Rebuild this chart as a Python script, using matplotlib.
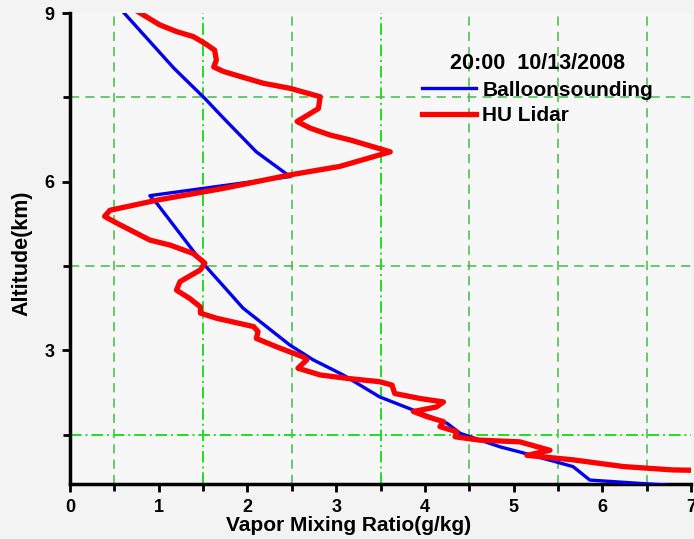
import matplotlib
matplotlib.use("Agg")
import matplotlib.pyplot as plt
from matplotlib.ticker import MultipleLocator

plt.rcParams['font.family'] = ['Liberation Sans', 'DejaVu Sans']
plt.rcParams['font.weight'] = 'bold'

# Balloon sounding profile (g/kg vs km)
balloon_x = [0.61, 1.17, 1.52, 1.73, 2.10, 2.48, 0.90, 0.98, 1.47, 1.95, 2.48,
             2.74, 3.08, 3.49, 4.25, 4.40, 4.85, 5.07, 5.67, 5.86, 6.43, 6.73]
balloon_y = [9.00, 8.02, 7.48, 7.13, 6.53, 6.09, 5.75, 5.61, 4.60, 3.75, 3.09,
             2.83, 2.56, 2.17, 1.70, 1.52, 1.28, 1.19, 0.93, 0.69, 0.63, 0.60]

# HU Lidar profile
lidar_x = [0.77, 1.01, 1.20, 1.39, 1.52, 1.63, 1.65, 1.62, 1.73, 1.92, 2.18, 2.48,
           2.82, 2.80, 2.56, 2.71, 2.93, 3.16, 3.61, 3.04, 2.48, 1.73, 0.98, 0.45,
           0.39, 0.53, 0.90, 1.13, 1.39, 1.52, 1.47, 1.24, 1.20, 1.35, 1.47, 1.47,
           1.65, 2.07, 2.12, 2.10, 2.33, 2.63, 2.67, 2.57, 2.82, 3.12, 3.49, 3.63,
           3.66, 3.95, 4.21, 4.13, 3.87, 4.02, 4.21, 4.17, 4.36, 4.34, 4.62, 5.07,
           5.41, 5.15, 5.67, 6.24, 6.80, 7.20]
lidar_y = [9.02, 8.79, 8.67, 8.58, 8.46, 8.34, 8.16, 8.04, 7.96, 7.87, 7.75, 7.66,
           7.51, 7.30, 7.07, 6.95, 6.83, 6.74, 6.53, 6.27, 6.12, 5.88, 5.67, 5.49,
           5.38, 5.26, 4.96, 4.87, 4.72, 4.55, 4.43, 4.22, 4.07, 3.92, 3.77, 3.66,
           3.57, 3.42, 3.33, 3.21, 3.06, 2.88, 2.83, 2.68, 2.56, 2.50, 2.44, 2.38,
           2.23, 2.14, 2.08, 1.99, 1.91, 1.82, 1.73, 1.64, 1.55, 1.46, 1.40, 1.37,
           1.22, 1.13, 1.05, 0.93, 0.87, 0.86]

x_ticks = [0, 1, 2, 3, 4, 5, 6, 7]
y_ticks = [3, 6, 9]

fig = plt.figure(figsize=(6.94, 5.39), dpi=100, facecolor='#f3f3f3')
ax = fig.add_axes([70/694, 1-484/539, 621/694, 471/539])
ax.set_facecolor('#f7f7f7')

ax.plot(balloon_x, balloon_y, color='#0000ee', lw=2.4, label='Balloonsounding', zorder=3)
ax.plot(lidar_x, lidar_y, color='#ff0000', lw=3.8, label='HU Lidar', zorder=4)

ax.set_xlim(0, 7)
ax.set_ylim(0.62, 9)
ax.set_xticks(x_ticks)
ax.set_yticks(y_ticks)
ax.xaxis.set_minor_locator(MultipleLocator(0.5))
ax.yaxis.set_minor_locator(MultipleLocator(1.5))
ax.tick_params(which='both', direction='out', width=2, length=5)
ax.tick_params(which='major', length=6, labelsize=13, pad=5)
for lab in ax.get_xticklabels() + ax.get_yticklabels():
    lab.set_fontweight('bold')

for s in ['top', 'right']:
    ax.spines[s].set_visible(False)
for s in ['left', 'bottom']:
    ax.spines[s].set_linewidth(2.5)

for xv in [0.5, 2.5, 4.5, 5.5, 6.5]:
    ax.axvline(xv, color='#44bb44', lw=1.1, ls=(0, (6, 4)), zorder=1)
for xv in [1.5, 3.5]:
    ax.axvline(xv, color='#22dd22', lw=1.4, ls=(0, (6, 2, 1, 2)), zorder=1)
for yv in [4.5, 7.5]:
    ax.axhline(yv, color='#44bb44', lw=1.1, ls=(0, (6, 4)), zorder=1)
ax.axhline(1.5, color='#22dd22', lw=1.4, ls=(0, (6, 2, 1, 2)), zorder=1)

ax.set_xlabel('Vapor Mixing Ratio(g/kg)', fontsize=15, fontweight='bold')
ax.xaxis.set_label_coords(0.449, -0.069)
ax.set_ylabel('Altitude(km)', fontsize=15.5, fontweight='bold')
ax.yaxis.set_label_coords(-0.06, 0.49)

leg = ax.legend(loc='upper left', bbox_to_anchor=(0.553, 0.932), frameon=False,
                title='20:00  10/13/2008', fontsize=15, handlelength=2.6,
                handletextpad=0.3, labelspacing=0.3, borderaxespad=0)
leg.get_title().set_fontsize(15.5)
leg.get_title().set_fontweight('bold')
for t in leg.get_texts():
    t.set_fontweight('bold')

fig.savefig('out.png', dpi=100, facecolor=fig.get_facecolor())
